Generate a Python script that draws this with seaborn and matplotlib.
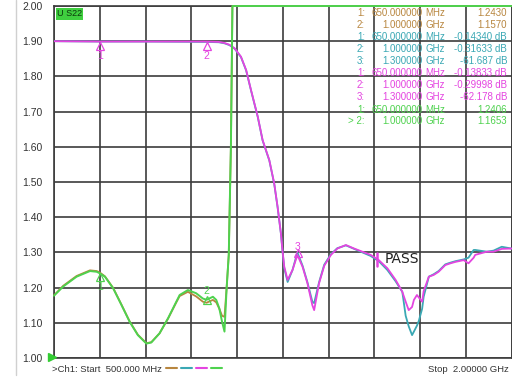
import numpy as np
import pandas as pd
import matplotlib
matplotlib.use("Agg")
import matplotlib.pyplot as plt
import matplotlib.transforms as mtransforms
import seaborn as sns

# =============================================================================
# DATA (screen units 1.00 - 2.00)
# =============================================================================
# S11 / S22 (brown / green), frequency in MHz
freq_refl = [500, 530, 574, 618, 640, 650, 667, 694, 721, 748, 775, 803, 819, 846,
             874, 901, 912, 939, 966, 988, 1000, 1021, 1032, 1042, 1051, 1059, 1066,
             1073, 1080, 1085, 1090, 1300, 1600, 2000]
brown = [1.178, 1.205, 1.233, 1.249, 1.247, 1.243, 1.232, 1.199, 1.152, 1.104, 1.066,
         1.042, 1.045, 1.070, 1.112, 1.158, 1.176, 1.188, 1.175, 1.160, 1.157, 1.165,
         1.158, 1.140, 1.120, 1.117, 1.200, 1.293, 1.600, 2.000, 2.000, 2.000, 2.000,
         2.000]
green = [1.177, 1.203, 1.231, 1.247, 1.245, 1.2406, 1.231, 1.198, 1.151, 1.103, 1.065,
         1.041, 1.044, 1.070, 1.113, 1.160, 1.179, 1.193, 1.184, 1.169, 1.1653, 1.174,
         1.165, 1.141, 1.103, 1.075, 1.198, 1.293, 1.600, 2.000, 2.000, 2.000, 2.000,
         2.000]

# S21 (teal / magenta)
freq_tx = [500, 650, 800, 1000, 1040, 1059, 1075, 1092, 1113, 1130, 1146, 1168, 1184,
           1206, 1222, 1233, 1244, 1249, 1255, 1266, 1282, 1298, 1315, 1331, 1347, 1353,
           1369, 1386, 1408, 1429, 1457, 1484, 1511, 1538, 1565, 1593, 1620, 1642, 1653,
           1663, 1674, 1680, 1690, 1696, 1707, 1712, 1729, 1745, 1761, 1783, 1800, 1816,
           1843, 1859, 1876, 1881, 1919, 1941, 1968, 2000]
magenta = [1.900, 1.899, 1.899, 1.899, 1.898, 1.895, 1.890, 1.880, 1.856, 1.818, 1.761,
           1.686, 1.619, 1.562, 1.496, 1.430, 1.354, 1.307, 1.259, 1.222, 1.250, 1.293,
           1.259, 1.212, 1.150, 1.136, 1.212, 1.262, 1.293, 1.311, 1.321, 1.311, 1.302,
           1.293, 1.278, 1.255, 1.222, 1.188, 1.160, 1.136, 1.145, 1.165, 1.179, 1.172,
           1.160, 1.190, 1.231, 1.236, 1.245, 1.264, 1.269, 1.273, 1.278, 1.269, 1.285,
           1.293, 1.302, 1.302, 1.310, 1.311]
teal = [1.900, 1.899, 1.899, 1.898, 1.897, 1.894, 1.889, 1.879, 1.855, 1.817, 1.760,
        1.685, 1.618, 1.561, 1.495, 1.429, 1.353, 1.305, 1.255, 1.216, 1.250, 1.300,
        1.262, 1.215, 1.160, 1.156, 1.215, 1.265, 1.295, 1.312, 1.320, 1.310, 1.300,
        1.290, 1.275, 1.250, 1.218, 1.188, 1.120, 1.090, 1.065, 1.075, 1.092, 1.105,
        1.140, 1.174, 1.231, 1.238, 1.247, 1.266, 1.271, 1.275, 1.280, 1.285, 1.307,
        1.307, 1.302, 1.305, 1.316, 1.311]

# marker readout table
table_rows = [
    ("1:", "650.000000", "MHz", "1.2430", "brown"),
    ("2:", "1.000000", "GHz", "1.1570", "brown"),
    ("1:", "650.000000", "MHz", "-0.14340 dB", "teal"),
    ("2:", "1.000000", "GHz", "-0.31633 dB", "teal"),
    ("3:", "1.300000", "GHz", "-61.687 dB", "teal"),
    ("1:", "650.000000", "MHz", "-0.13833 dB", "magenta"),
    ("2:", "1.000000", "GHz", "-0.29998 dB", "magenta"),
    ("3:", "1.300000", "GHz", "-62.178 dB", "magenta"),
    ("1:", "650.000000", "MHz", "1.2406", "green"),
    ("> 2:", "1.000000", "GHz", "1.1653", "green"),
]
y_ticks = [1.00, 1.10, 1.20, 1.30, 1.40, 1.50, 1.60, 1.70, 1.80, 1.90, 2.00]

COLORS = {"brown": "#b8863f", "teal": "#3aa8b4", "magenta": "#e444e0", "green": "#4ed24e"}
GRID = "#3c3c3c"

# =============================================================================
# PLOT
# =============================================================================
sns.set_style("white")
plt.rcParams['font.family'] = ['Liberation Sans', 'DejaVu Sans']

W, H = 512, 378
fig = plt.figure(figsize=(W / 100, H / 100), dpi=100)
ax = fig.add_axes([54 / W, 1 - 358 / H, (511.5 - 54) / W, (358 - 6) / H])

df_refl = pd.DataFrame({"freq": freq_refl, "brown": brown, "green": green})
df_tx = pd.DataFrame({"freq": freq_tx, "teal": teal, "magenta": magenta})

sns.lineplot(data=df_refl, x="freq", y="brown", color=COLORS["brown"], lw=1.3,
             estimator=None, sort=False, ax=ax, clip_on=False, zorder=3)
sns.lineplot(data=df_tx, x="freq", y="teal", color=COLORS["teal"], lw=1.3,
             estimator=None, sort=False, ax=ax, zorder=3)
sns.lineplot(data=df_tx, x="freq", y="magenta", color=COLORS["magenta"], lw=1.3,
             estimator=None, sort=False, ax=ax, zorder=4)
sns.lineplot(data=df_refl, x="freq", y="green", color=COLORS["green"], lw=1.4,
             estimator=None, sort=False, ax=ax, clip_on=False, zorder=5)

ax.set_xlim(500, 2000)
ax.set_ylim(1.0, 2.0)
ax.set_xticks(np.arange(500, 2001, 150))
ax.set_yticks(y_ticks)
ax.set_yticklabels([f"{v:.2f}" for v in y_ticks], fontsize=7.5, color="#333333")
ax.set_xticklabels([])
ax.tick_params(length=0, pad=8)
ax.set_xlabel("")
ax.set_ylabel("")
ax.grid(True, color=GRID, lw=1.2)
for s in ax.spines.values():
    s.set_color(GRID)
    s.set_linewidth(1.2)


# trace markers
def marker(x, y, col, label, dy_tri, dy_lab):
    tr = mtransforms.offset_copy(ax.transData, fig=fig, x=0, y=dy_tri, units="points")
    ax.plot([x], [y], marker="^", ms=5.5, mfc="none", mec=col, mew=0.9,
            transform=tr, zorder=6, clip_on=False)
    ax.annotate(label, (x, y), xytext=(0, dy_lab), textcoords="offset points",
                ha="center", va="center", fontsize=7.5, color=col, zorder=6)


marker(650, 1.90, COLORS["magenta"], "1", -3.5, -11)
marker(1000, 1.90, COLORS["magenta"], "2", -3.5, -11)
marker(1300, 1.293, COLORS["magenta"], "3", 1, 6)
marker(650, 1.2406, COLORS["green"], "1", -3, -10)
marker(1000, 1.1653, COLORS["green"], "2", 0, 6)

# PASS limit tick
ax.plot([1560, 1560], [1.262, 1.298], color=COLORS["magenta"], lw=1.8, zorder=6)
ax.text(1583, 1.281, "PASS", fontsize=10, color="#222222", va="center", ha="left",
        family=["DejaVu Sans"])

# trace label box
fig.text(57 / W, 1 - 14 / H, "U S22", fontsize=6.5, color="#0c3a0c", va="center",
         ha="left", bbox=dict(boxstyle="square,pad=0.15", fc="#3fcf3f", ec="none"))

# marker readout table
for i, (num, fr, unit, val, col) in enumerate(table_rows):
    yy = 1 - (13.5 + i * 12.0) / H
    c = COLORS[col]
    fig.text(365 / W, yy, num, fontsize=7, color=c, ha="right", va="center")
    fig.text(423 / W, yy, fr, fontsize=7, color=c, ha="right", va="center")
    fig.text(425 / W, yy, unit, fontsize=7, color=c, ha="left", va="center")
    fig.text(507 / W, yy, val, fontsize=7, color=c, ha="right", va="center")

# footer
fig.text(52 / W, 1 - 369 / H, ">Ch1: Start  500.000 MHz", fontsize=6.8, color="#333333",
         ha="left", va="center")
for k, col in enumerate(["brown", "teal", "magenta", "green"]):
    x0 = (166 + k * 15) / W
    fig.add_artist(plt.Line2D([x0, x0 + 11 / W], [1 - 368 / H] * 2, color=COLORS[col],
                              lw=1.5))
fig.text(509 / W, 1 - 369 / H, "Stop  2.00000 GHz", fontsize=6.8, color="#333333",
         ha="right", va="center")

# reference level arrow and left frame line
fig.add_artist(plt.Line2D([52 / W], [1 - 357 / H], marker=">", ms=6, color="#33cc33",
                          lw=0))
fig.add_artist(plt.Line2D([15.5 / W, 15.5 / W], [1 - 375 / H, 1.0], color="#d0d0d0",
                          lw=1.0))

fig.savefig("out.png", dpi=100)
